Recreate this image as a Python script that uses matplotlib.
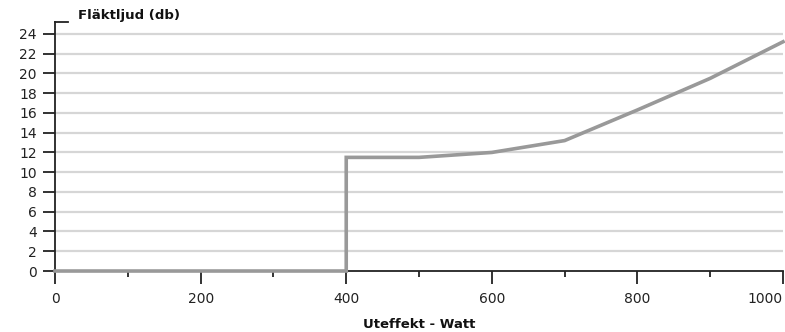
import matplotlib.pyplot as plt
from matplotlib.ticker import MultipleLocator

# data
watt = [0, 400, 400, 500, 600, 700, 800, 900, 1000]
db = [0, 0, 11.5, 11.5, 12.0, 13.2, 16.3, 19.5, 23.2]
yticks = list(range(0, 25, 2))
xticks = [0, 200, 400, 600, 800, 1000]

plt.rcParams['font.family'] = ['DejaVu Sans']

fig = plt.figure(figsize=(7.85, 3.32), dpi=100)
ax = fig.add_axes([0.0701, 0.1837, 0.9274, 0.75])

for v in yticks[1:]:
    ax.axhline(v, color='#d6d6d6', lw=1.6, zorder=1)

ax.plot(watt, db, color='#999999', lw=2.6, zorder=3, clip_on=False, solid_joinstyle='miter')

ax.set_xlim(0, 1000)
ax.set_ylim(0, 25.2)
ax.set_yticks(yticks)
ax.set_xticks(xticks)
ax.set_xticklabels([str(x) for x in xticks])
ax.xaxis.set_minor_locator(MultipleLocator(100))
ax.get_xticklabels()[-1].set_horizontalalignment('right')
ax.get_xticklabels()[-1].set_x(1000)

for s in ['top', 'right']:
    ax.spines[s].set_visible(False)
for s in ['left', 'bottom']:
    ax.spines[s].set_color('#222222')
    ax.spines[s].set_linewidth(1.3)

ax.tick_params(axis='y', length=9, width=1.3, color='#222222', labelsize=10, pad=4, labelcolor='#222222')
ax.tick_params(axis='x', which='major', length=9, width=1.3, color='#222222', labelsize=10, pad=6, labelcolor='#222222')
ax.tick_params(axis='x', which='minor', length=4.5, width=1.3, color='#222222')

# small cap at the top of the y axis
ax.plot([0, 13 / 728], [1, 1], transform=ax.transAxes, color='#222222', lw=1.3, clip_on=False)

fig.text(78 / 785, 1 - 16 / 332, 'Fläktljud (db)', fontsize=9.5, fontweight='bold', va='center', ha='left', color='#111111')
fig.text(419 / 785, 1 - 325 / 332, 'Uteffekt - Watt', fontsize=9.5, fontweight='bold', va='center', ha='center', color='#111111')

fig.savefig('out.png', dpi=100)
